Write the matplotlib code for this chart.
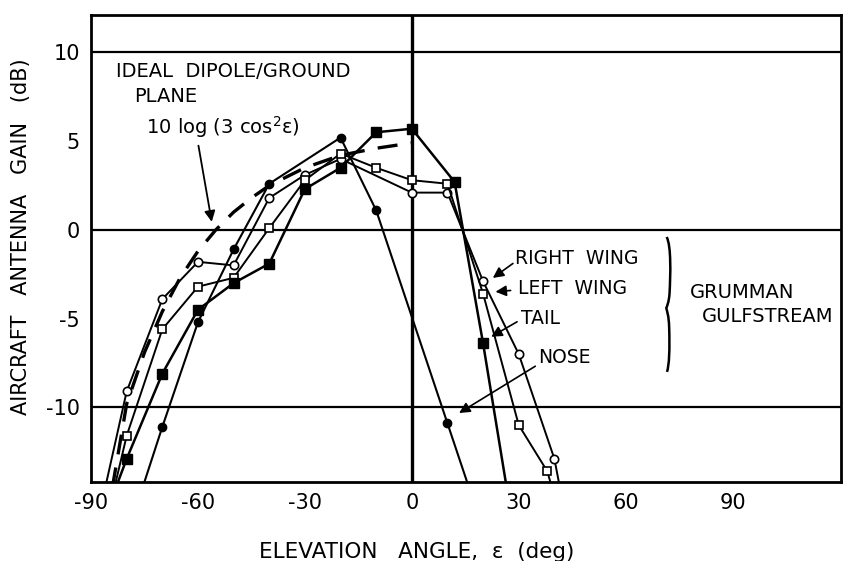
import matplotlib

matplotlib.use("Agg")
import matplotlib.pyplot as plt
from matplotlib.path import Path
from matplotlib.patches import PathPatch

# ideal dipole / ground plane curve, 10 log(3 cos^2 e)
ideal_angle = [-84, -80, -75, -70, -65, -60, -55, -50, -45, -40, -30, -20, -10, 0]
ideal_gain = [-14.5, -9.8, -6.9, -4.6, -2.7, -1.2, 0.0, 1.0, 1.8, 2.5, 3.5, 4.2, 4.6, 4.9]

# measured patterns (end points run off the bottom of the chart)
rwing_angle = [-86, -80, -70, -60, -50, -40, -30, -20, 0, 10, 20, 30, 40, 42]
rwing_gain = [-14.5, -9.1, -3.9, -1.8, -2.0, 1.8, 3.1, 4.0, 2.1, 2.1, -2.9, -7.0, -12.9, -15.0]

lwing_angle = [-84, -80, -70, -60, -50, -40, -30, -20, -10, 0, 10, 20, 30, 38, 40]
lwing_gain = [-15.0, -11.6, -5.6, -3.2, -2.7, 0.1, 2.8, 4.3, 3.5, 2.8, 2.6, -3.6, -11.0, -13.6, -15.0]

tail_angle = [-83, -80, -70, -60, -50, -40, -30, -20, -10, 0, 12, 20, 27]
tail_gain = [-14.5, -12.9, -8.1, -4.5, -3.0, -1.9, 2.3, 3.5, 5.5, 5.7, 2.7, -6.4, -15.0]

nose_angle = [-75.5, -70, -60, -50, -40, -20, -10, 10, 16]
nose_gain = [-14.5, -11.1, -5.2, -1.1, 2.6, 5.2, 1.1, -10.9, -14.5]

xticks = [-90, -60, -30, 0, 30, 60, 90]
yticks = [10, 5, 0, -5, -10]

plt.rcParams["font.family"] = ["DejaVu Sans"]

fig = plt.figure(figsize=(8.43, 5.61), dpi=100)
ax = fig.add_axes([0.108, 0.141, 0.89, 0.832])
ax.set_xlim(-90, 120.5)
ax.set_ylim(-14.2, 12.1)

for y in [10, 0, -10]:
    ax.axhline(y, color="black", lw=1.6, zorder=1)
ax.axvline(0, color="black", lw=2.4, zorder=1)

ax.plot(ideal_angle, ideal_gain, color="black", lw=2.4, dashes=(6, 4), zorder=2)

inner = slice(1, -1)
ax.plot(rwing_angle, rwing_gain, color="black", lw=1.4, marker="o", ms=6,
        mfc="white", mec="black", mew=1.2, markevery=inner, zorder=3)
ax.plot(lwing_angle, lwing_gain, color="black", lw=1.4, marker="s", ms=5.5,
        mfc="white", mec="black", mew=1.2, markevery=inner, zorder=3)
ax.plot(tail_angle, tail_gain, color="black", lw=1.8, marker="s", ms=6.5,
        mfc="black", mec="black", markevery=inner, zorder=4)
ax.plot(nose_angle, nose_gain, color="black", lw=1.5, marker="o", ms=6,
        mfc="black", mec="black", markevery=inner, zorder=4)

for side in ["left", "right", "top", "bottom"]:
    ax.spines[side].set_linewidth(2)

ax.set_xticks(xticks)
ax.set_xticklabels([str(v) for v in xticks])
ax.set_yticks(yticks)
ax.set_yticklabels([str(v) for v in yticks])
ax.tick_params(axis="both", direction="in", length=0, labelsize=15, pad=8)
ax.set_xticks([-60, -30, 30, 60], minor=True)
ax.set_yticks([5, -5], minor=True)
ax.tick_params(which="minor", direction="in", length=10, width=2)

# axis titles placed on the figure, as in the original drawing
fig.text(417 / 843, 1 - 552 / 561, "ELEVATION   ANGLE,  \u03b5  (deg)",
         fontsize=15.5, ha="center", va="center")
fig.text(21 / 843, 1 - 237 / 561, "AIRCRAFT   ANTENNA   GAIN   (dB)",
         fontsize=15, ha="center", va="center", rotation=90)

# annotations
ax.text(-83, 8.9, "IDEAL  DIPOLE/GROUND", fontsize=14, va="center")
ax.text(-78, 7.5, "PLANE", fontsize=14, va="center")
ax.text(-74.5, 5.8, "10 log (3 cos$^2$\u03b5)", fontsize=14, va="center")
ax.annotate("", xy=(-56, 0.3), xytext=(-60, 4.9),
            arrowprops=dict(arrowstyle="-|>", color="black", lw=1.3,
                            mutation_scale=16))

labels = [("RIGHT  WING", (29, -1.6), (29, -1.8), (22.1, -2.8)),
          ("LEFT  WING", (29.7, -3.3), (28.5, -3.4), (22.7, -3.5)),
          ("TAIL", (30.5, -5.0), (30.2, -5.1), (21.6, -6.1)),
          ("NOSE", (35.3, -7.2), (35.3, -7.6), (12.6, -10.4))]
for text, pos, tail, head in labels:
    ax.text(pos[0], pos[1], text, fontsize=13.5, va="center")
    ax.annotate("", xy=head, xytext=tail,
                arrowprops=dict(arrowstyle="-|>", color="black", lw=1.2,
                                mutation_scale=16))

brace = Path([(71.5, -0.4), (72.8, -0.9), (72.6, -2.5), (72.3, -3.6),
              (72.1, -4.1), (71.6, -4.3), (71.4, -4.4),
              (71.6, -4.6), (72.1, -4.8), (72.2, -5.5),
              (72.4, -6.8), (72.2, -7.6), (71.6, -8.0)],
             [Path.MOVETO, Path.CURVE4, Path.CURVE4, Path.CURVE4,
              Path.CURVE4, Path.CURVE4, Path.CURVE4,
              Path.CURVE4, Path.CURVE4, Path.CURVE4,
              Path.CURVE4, Path.CURVE4, Path.CURVE4])
ax.add_patch(PathPatch(brace, facecolor="none", edgecolor="black", lw=1.8))

ax.text(78, -3.5, "GRUMMAN", fontsize=14, va="center")
ax.text(81.5, -4.9, "GULFSTREAM", fontsize=14, va="center")

fig.savefig("out.png", dpi=100)
